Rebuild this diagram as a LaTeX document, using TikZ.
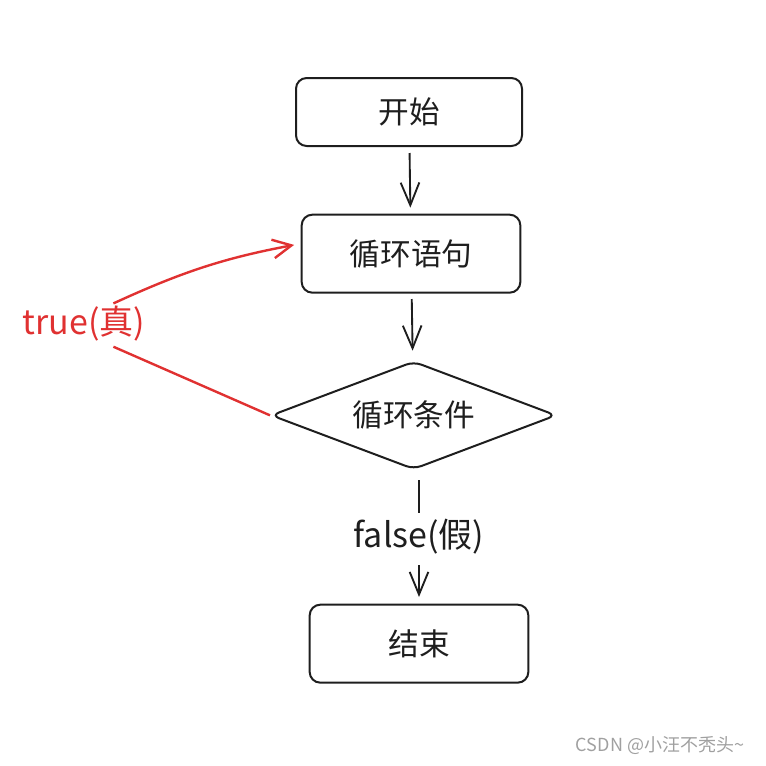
\documentclass[tikz,border=0pt]{standalone}
\usepackage{fontspec}
\setmainfont{Noto Sans CJK SC}
\usepackage{tikz}
\usetikzlibrary{shapes.geometric,arrows.meta,positioning,calc}
\definecolor{strokeBlack}{HTML}{1E1E1E}
\definecolor{strokeRed}{HTML}{E03131}
\definecolor{markGray}{HTML}{A0A0A0}

\begin{document}
\begin{tikzpicture}[
            x=0.75pt, y=-0.75pt,
            node distance=50pt and 40pt,
            step box/.style={
                    rectangle,
                    rounded corners=8pt,
                    draw=strokeBlack,
                    line width=1.5pt,
                    minimum width=164pt,
                    minimum height=58.5pt,
                    align=center,
                    text=strokeBlack,
                    font=\fontsize{23}{27}\selectfont
                },
            test box/.style={
                    diamond,
                    rounded corners=6pt,
                    draw=strokeBlack,
                    line width=1.5pt,
                    aspect=2.6,
                    inner sep=0pt,
                    minimum width=214pt,
                    minimum height=81pt,
                    text=strokeBlack,
                    font=\fontsize{23}{27}\selectfont
                },
            flow label/.style={
                    inner sep=2pt,
                    font=\fontsize{25.5}{30}\selectfont
                },
            arrow/.style={
                    -{Straight Barb[length=17pt,width=14pt,line width=1.4pt]},
                    line width=1.4pt,
                    draw=strokeBlack
                },
            red arrow/.style={
                    -{Straight Barb[length=14pt,width=14pt,line width=1.8pt]},
                    line width=1.8pt,
                    draw=strokeRed
                }
        ]
        \useasboundingbox (0,0) rectangle (766,765);

        % Flux principal
        \node[step box, minimum width=169.5pt, minimum height=51pt] (start) at (409,112) {开始};
        \node[step box, below=50pt of start, xshift=1.5pt] (loop) {循环语句};
        \node[test box, below=50pt of loop, xshift=2pt] (cond) {循环条件};
        \node[step box, below=100pt of cond, xshift=4pt] (end) {结束};

        % Etiquettes
        \node[flow label, text=strokeBlack] (lblfalse) at (419,537) {false(假)};
        \node[flow label, text=strokeRed] (lbltrue) at (84,324) {true(真)};

        \draw[arrow, shorten <=4.5pt, shorten >=4.5pt] (start) -- (loop);
        \draw[arrow, shorten <=4pt, shorten >=7.5pt] (loop) -- (cond);
        \draw[line width=1.4pt, draw=strokeBlack, shorten <=7.5pt, shorten >=3pt]
            (lblfalse |- cond.south) -- (lblfalse.north);
        \draw[arrow, shorten <=6pt, shorten >=5pt] (lblfalse.south) -- (lblfalse |- end.north);

        % Boucle
        \draw[red arrow, shorten >=5pt] (lbltrue.35) to[bend left=7] ([yshift=7.5pt]loop.west);
        \draw[line width=1.8pt, draw=strokeRed, shorten >=4pt] (cond.west) -- (lbltrue.-40);

        % Filigrane
        \node[text=markGray, font=\fontsize{13.5}{16}\selectfont] (mark) at (660,746) {CSDN @小汪不秃头\textasciitilde};

    \end{tikzpicture}
\end{document}
